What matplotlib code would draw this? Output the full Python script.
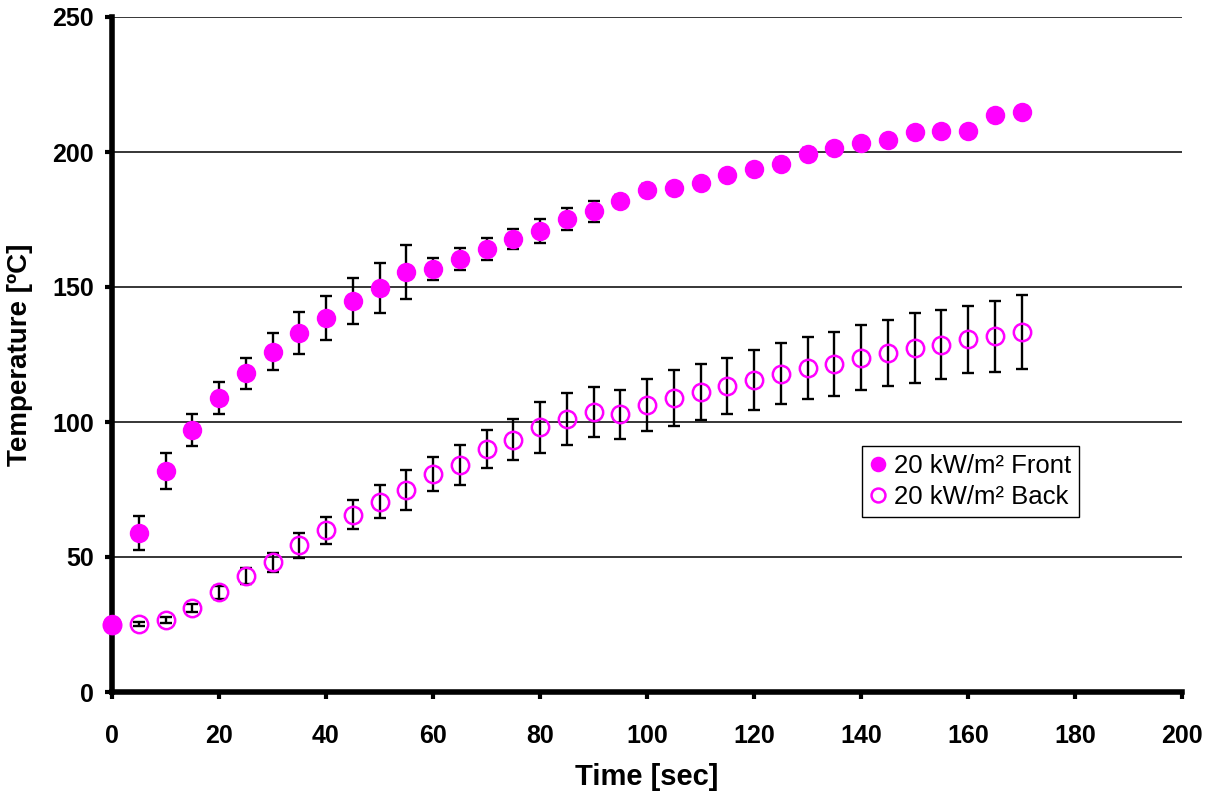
import numpy as np
import matplotlib
matplotlib.use("Agg")
import matplotlib.pyplot as plt

plt.rcParams['font.family'] = ['Liberation Sans', 'DejaVu Sans']

# data
time = np.arange(0, 175, 5)
front = [25.2, 58.9, 81.9, 97.0, 108.9, 118.0, 126.0, 133.0, 138.5, 144.8,
         149.6, 155.6, 156.7, 160.4, 164.0, 167.8, 170.7, 175.1, 178.0, 181.9,
         186.0, 186.7, 188.5, 191.5, 193.7, 195.6, 199.3, 201.5, 203.3, 204.4,
         207.4, 207.8, 207.8, 213.7, 214.8]
front_err = [0, 6.3, 6.6, 6.0, 5.9, 5.7, 6.9, 7.8, 8.2, 8.6,
             9.3, 10.0, 4.1, 4.2, 4.0, 3.6, 4.3, 4.1, 4.0, 2.0,
             2.0, 2.0, 2.0, 2.0, 2.0, 2.0, 2.0, 2.0, 2.0, 2.0,
             2.0, 2.0, 2.0, 2.0, 2.0]
back = [25.0, 25.1, 26.7, 31.0, 36.9, 43.0, 48.1, 54.3, 60.0, 65.6,
        70.5, 74.8, 80.7, 84.1, 89.9, 93.5, 98.0, 101.2, 103.8, 102.8,
        106.3, 108.9, 111.0, 113.3, 115.4, 117.9, 120.0, 121.4, 123.8, 125.6,
        127.4, 128.6, 130.7, 131.7, 133.2]
back_err = [0, 0.8, 1.1, 1.5, 2.5, 3.1, 3.5, 4.6, 5.0, 5.4,
            6.0, 7.3, 6.2, 7.3, 7.1, 7.5, 9.5, 9.7, 9.3, 9.2,
            9.7, 10.4, 10.3, 10.4, 11.1, 11.4, 11.5, 11.9, 12.0, 12.2,
            13.0, 12.7, 12.4, 13.1, 13.7]
labels = ['20 kW/m² Front', '20 kW/m² Back']
mag = '#FF00FF'

fig = plt.figure(figsize=(12.15, 7.96), dpi=100)
ax = fig.add_axes([112/1215, 104/796, 1070/1215, 675/796])

ax.errorbar(time, back, yerr=back_err, fmt='none', ecolor='black',
            elinewidth=1.7, capsize=4.5, capthick=1.7, zorder=3)
ax.errorbar(time, front, yerr=front_err, fmt='none', ecolor='black',
            elinewidth=1.7, capsize=4.0, capthick=1.7, zorder=3)
ax.plot(time, back, 'o', ms=12.5, mfc='none', mec=mag, mew=1.8,
        label=labels[1], zorder=4, clip_on=False)
ax.plot(time, front, 'o', ms=14, mfc=mag, mec=mag, mew=0,
        label=labels[0], zorder=5, clip_on=False)

ax.set_xlim(0, 200)
ax.set_ylim(0, 250)
ax.set_xticks(np.arange(0, 201, 20))
ax.set_yticks(np.arange(0, 251, 50))
ax.yaxis.grid(True, color='black', linewidth=1.1)
ax.set_axisbelow(True)

for s in ['top', 'right']:
    ax.spines[s].set_visible(False)
for s in ['left', 'bottom']:
    ax.spines[s].set_linewidth(4)
    ax.spines[s].set_zorder(3.5)

ax.tick_params(axis='both', direction='out', length=5, width=3, labelsize=18)
ax.tick_params(axis='y', pad=8)
ax.tick_params(axis='x', pad=18)
for t in ax.get_xticklabels() + ax.get_yticklabels():
    t.set_fontweight('bold')

ax.set_xlabel('Time [sec]', fontsize=21, fontweight='bold', labelpad=11)
ax.set_ylabel('Temperature [ºC]', fontsize=20, fontweight='bold', labelpad=14)

h, l = ax.get_legend_handles_labels()
leg = ax.legend(h[::-1], l[::-1], loc='upper left', bbox_to_anchor=(0.7007, 0.3644),
                borderaxespad=0, fancybox=False, framealpha=1, edgecolor='black',
                fontsize=18.5, markerscale=0.8, handlelength=0.7, handletextpad=0.25,
                borderpad=0.3, labelspacing=0.3)
leg.get_frame().set_linewidth(1.0)

fig.savefig('out.png', dpi=100)
